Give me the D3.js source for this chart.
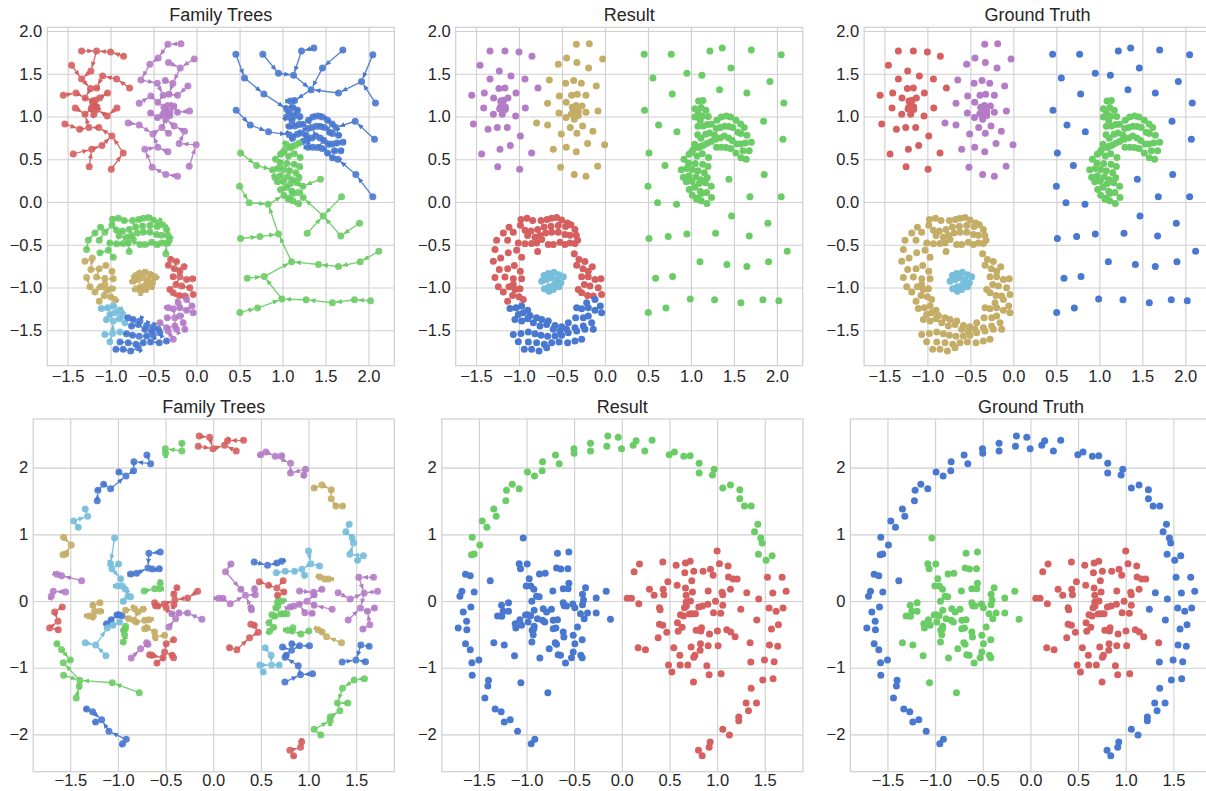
<!DOCTYPE html>
<html>
<head>
<meta charset="utf-8">
<script src="https://cdn.jsdelivr.net/npm/d3@7"></script>
<style>
  body { margin: 0; background: #ffffff; }
  svg { display: block; }
  text { font-family: "Liberation Sans", Arial, sans-serif; }
</style>
</head>
<body>
<svg id="fig" width="1206" height="791"></svg>
<script>
// Seaborn "muted" (6) palette: blue, green, red, purple, tan, light blue
const palette = ["#4878CF", "#6ACC65", "#D65F5F", "#B47CC7", "#C4AD66", "#77BEDB"];

const panelTitles = ["Family Trees", "Result", "Ground Truth"];
const topTicks = [-1.5, -1.0, -0.5, 0.0, 0.5, 1.0, 1.5, 2.0];
const bottomXTicks = [-1.5, -1.0, -0.5, 0.0, 0.5, 1.0, 1.5];
const bottomYTicks = [-2, -1, 0, 1, 2];

// ---------- upper dataset ----------
const topRedBlob = [[-1.337,1.766],[-1.163,1.766],[-1.000,1.755],[-0.849,1.704],[-1.453,1.599],[-1.229,1.533],[-1.093,1.474],[-1.337,1.439],[-0.930,1.439],[-0.779,1.334],[-1.403,1.275],[-1.233,1.326],[-1.163,1.334],[-1.035,1.275],[-1.550,1.248],[-1.295,1.217],[-1.128,1.217],[-1.213,1.182],[-1.178,1.190],[-1.194,1.155],[-1.217,1.108],[-1.159,1.112],[-1.411,1.100],[-0.926,1.100],[-1.225,1.088],[-1.159,1.081],[-1.298,1.026],[-1.194,1.026],[-1.039,1.007],[-1.531,0.913],[-1.360,0.851],[-1.252,0.870],[-1.136,0.870],[-0.984,0.773],[-1.434,0.562],[-1.221,0.617],[-1.101,0.660],[-0.853,0.574],[-1.248,0.411],[-0.992,0.383]];

const topPurpleBlob = [[-0.333,1.844],[-0.182,1.852],[-0.446,1.684],[-0.027,1.673],[-0.543,1.610],[-0.326,1.630],[-0.190,1.568],[-0.647,1.427],[-0.457,1.388],[-0.364,1.420],[-0.275,1.388],[-0.101,1.357],[-0.531,1.240],[-0.388,1.248],[-0.322,1.260],[-0.221,1.248],[-0.667,1.155],[-0.450,1.166],[-0.380,1.108],[-0.337,1.127],[-0.267,1.123],[-0.364,1.077],[-0.310,1.057],[-0.391,1.030],[-0.337,1.026],[-0.310,1.011],[-0.535,1.042],[-0.221,1.049],[-0.081,1.065],[-0.453,0.987],[-0.357,0.968],[-0.795,0.925],[-0.667,0.901],[-0.403,0.870],[-0.260,0.890],[-0.140,0.827],[-0.326,0.804],[-0.508,0.796],[-0.601,0.617],[-0.450,0.640],[-0.333,0.586],[-0.202,0.683],[-0.004,0.668],[-0.516,0.407],[-0.357,0.321],[-0.221,0.302],[-0.085,0.418]];

const sparseUpper = [[0.457,1.727],[0.771,1.727],[1.221,1.766],[1.364,1.801],[1.702,1.778],[2.050,1.723],[0.558,1.451],[0.953,1.505],[1.128,1.482],[1.465,1.568],[1.919,1.408],[0.783,1.264],[1.333,1.314],[1.651,1.275],[2.081,1.159],[0.461,1.073],[0.624,0.901],[0.837,0.820],[1.845,0.944],[2.070,0.734],[1.853,0.321],[2.050,0.060]];

const sparseLower = [[0.512,0.574],[0.698,0.426],[1.442,0.266],[0.500,0.185],[1.686,0.060],[0.612,-0.008],[0.833,-0.027],[1.473,-0.163],[1.895,-0.249],[0.512,-0.428],[0.736,-0.405],[0.953,-0.374],[1.287,-0.366],[1.678,-0.397],[2.120,-0.576],[1.105,-0.700],[1.419,-0.732],[1.651,-0.755],[1.903,-0.700],[0.589,-0.891],[0.787,-0.872],[0.992,-1.136],[1.275,-1.144],[1.581,-1.179],[1.837,-1.144],[2.023,-1.156],[0.709,-1.241],[0.504,-1.292]];

const moonUpper = [[1.089,1.182],[1.140,1.186],[1.047,1.089],[1.120,1.104],[1.174,1.073],[1.085,1.038],[1.047,0.995],[1.132,1.003],[1.202,0.999],[1.109,0.956],[1.143,0.890],[1.081,0.886],[1.190,0.905],[1.236,0.909],[1.302,0.956],[1.353,0.995],[1.411,1.007],[1.461,0.995],[1.523,0.956],[1.578,0.913],[1.620,0.870],[1.295,0.858],[1.341,0.870],[1.391,0.886],[1.442,0.882],[1.488,0.870],[1.547,0.816],[1.581,0.800],[1.651,0.781],[1.078,0.785],[1.116,0.746],[1.171,0.792],[1.217,0.808],[1.275,0.781],[1.236,0.707],[1.287,0.734],[1.341,0.749],[1.388,0.773],[1.438,0.749],[1.481,0.718],[1.531,0.679],[1.574,0.679],[1.632,0.691],[1.702,0.699],[1.298,0.640],[1.353,0.640],[1.407,0.637],[1.461,0.625],[1.523,0.574],[1.605,0.598],[1.678,0.598],[1.581,0.516],[1.643,0.500]];

const moonLower = [[1.043,0.675],[1.109,0.648],[1.190,0.687],[1.023,0.609],[1.089,0.637],[1.147,0.664],[1.004,0.578],[0.977,0.559],[1.070,0.539],[1.132,0.563],[1.205,0.520],[0.919,0.500],[0.973,0.453],[1.050,0.450],[1.136,0.442],[1.198,0.414],[0.888,0.376],[0.953,0.391],[1.016,0.380],[1.081,0.364],[1.155,0.341],[0.911,0.290],[0.977,0.306],[1.058,0.294],[1.116,0.259],[1.190,0.282],[0.946,0.236],[1.012,0.243],[1.093,0.216],[1.167,0.224],[1.236,0.185],[0.981,0.146],[1.043,0.173],[1.109,0.126],[1.182,0.111],[1.016,0.080],[1.081,0.045],[1.128,0.103],[1.240,0.052],[1.066,0.033],[1.120,0.013],[1.186,-0.018]];

const ringTop = [[-0.977,-0.206],[-0.907,-0.191],[-0.841,-0.218],[-0.744,-0.218],[-0.674,-0.206],[-0.620,-0.191],[-0.562,-0.183],[-0.504,-0.210],[-0.438,-0.245],[-1.116,-0.296],[-0.984,-0.272],[-0.930,-0.331],[-0.860,-0.339],[-0.783,-0.323],[-0.709,-0.292],[-0.628,-0.284],[-0.543,-0.276],[-0.457,-0.288],[-0.395,-0.265],[-0.349,-0.323],[-1.182,-0.362],[-1.066,-0.354],[-0.899,-0.393],[-0.814,-0.412],[-0.756,-0.393],[-0.690,-0.362],[-0.620,-0.354],[-0.543,-0.354],[-0.465,-0.381],[-0.407,-0.389],[-0.333,-0.389],[-0.318,-0.447],[-1.260,-0.447],[-1.132,-0.447],[-1.008,-0.479],[-0.930,-0.490],[-0.853,-0.486],[-0.795,-0.479],[-0.736,-0.440],[-0.659,-0.498],[-0.601,-0.498],[-0.523,-0.471],[-0.465,-0.498],[-0.407,-0.479],[-0.349,-0.486],[-1.279,-0.556],[-1.124,-0.595],[-1.027,-0.564],[-0.969,-0.646],[-0.783,-0.580],[-0.357,-0.607]];

const ringLeft = [[-1.213,-0.654],[-1.298,-0.693],[-1.229,-0.790],[-1.132,-0.782],[-1.054,-0.743],[-0.984,-0.809],[-1.279,-0.883],[-1.163,-0.879],[-1.066,-0.899],[-0.969,-0.899],[-1.240,-0.992],[-1.182,-1.054],[-1.116,-0.992],[-1.066,-0.965],[-1.047,-1.023],[-0.988,-1.016],[-1.132,-1.160],[-1.074,-1.093],[-1.000,-1.109],[-0.950,-1.140]];

const ringRight = [[-0.302,-0.673],[-0.233,-0.696],[-0.329,-0.739],[-0.256,-0.782],[-0.194,-0.809],[-0.147,-0.759],[-0.271,-0.875],[-0.194,-0.875],[-0.116,-0.907],[-0.047,-0.899],[-0.240,-0.965],[-0.174,-0.984],[-0.078,-1.004],[-0.310,-1.023],[-0.271,-1.062],[-0.202,-1.093],[-0.136,-1.101],[-0.039,-1.082]];

const ringLowerRight = [[-0.116,-1.140],[-0.213,-1.179],[-0.054,-1.218],[-0.329,-1.237],[-0.271,-1.249],[-0.194,-1.237],[-0.116,-1.265],[-0.039,-1.296],[-0.426,-1.412],[-0.341,-1.354],[-0.252,-1.354],[-0.194,-1.335],[-0.349,-1.471],[-0.252,-1.451],[-0.155,-1.412],[-0.329,-1.510],[-0.233,-1.490],[-0.136,-1.490],[-0.271,-1.607]];

const ringLowerLeft = [[-1.105,-1.245],[-1.035,-1.237],[-0.969,-1.218],[-0.899,-1.265],[-1.008,-1.315],[-0.950,-1.296],[-0.872,-1.327],[-1.047,-1.374],[-0.969,-1.393],[-0.899,-1.366],[-0.833,-1.412],[-1.066,-1.549],[-0.977,-1.537],[-0.891,-1.521],[-1.008,-1.634]];

const ringBottom = [[-0.795,-1.354],[-0.736,-1.374],[-0.659,-1.393],[-0.581,-1.444],[-0.504,-1.459],[-0.756,-1.451],[-0.678,-1.432],[-0.601,-1.490],[-0.523,-1.510],[-0.446,-1.490],[-0.814,-1.541],[-0.744,-1.560],[-0.667,-1.572],[-0.581,-1.568],[-0.504,-1.560],[-0.426,-1.529],[-0.891,-1.638],[-0.795,-1.646],[-0.705,-1.665],[-0.620,-1.646],[-0.535,-1.638],[-0.434,-1.646],[-0.349,-1.626],[-0.938,-1.724],[-0.853,-1.724],[-0.767,-1.743],[-0.678,-1.704]];

const ringCore = [[-0.709,-0.860],[-0.659,-0.837],[-0.593,-0.821],[-0.535,-0.852],[-0.484,-0.875],[-0.736,-0.926],[-0.678,-0.907],[-0.620,-0.887],[-0.562,-0.914],[-0.512,-0.946],[-0.705,-1.016],[-0.651,-0.992],[-0.589,-0.965],[-0.535,-0.992],[-0.651,-1.043],[-0.601,-1.023]];

// ---------- lower dataset: [x, y, family] ----------
const outerArcTop = [[-1.570,0.955,4],[-1.490,0.840,4],[-1.577,0.695,4],[-1.549,0.705,4],[-1.465,1.200,3],[-1.416,1.105,3],[-1.343,1.380,3],[-1.318,1.270,3],[-1.210,1.660,2],[-1.217,1.505,2],[-1.150,1.750,2],[-1.077,1.685,2],[-0.990,1.935,2],[-0.916,1.875,2],[-0.832,2.090,2],[-0.836,1.955,2],[-0.696,2.190,2],[-0.657,2.060,2],[-0.503,2.285,1],[-0.500,2.215,1],[-0.329,2.365,1],[-0.329,2.250,1],[-0.147,2.475,0],[-0.157,2.320,0],[-0.038,2.455,0],[-0.003,2.285,0],[0.150,2.405,0],[0.119,2.335,0],[0.318,2.410,0],[0.241,2.250,0],[0.497,2.195,15],[0.552,2.235,15],[0.650,2.170,15],[0.717,2.180,15],[0.811,2.065,15],[0.811,1.920,15],[0.969,1.975,15],[0.951,1.890,15],[1.059,1.695,16],[1.140,1.740,16],[1.238,1.670,16],[1.238,1.535,16],[1.287,1.425,16],[1.357,1.425,16],[1.427,1.150,17],[1.392,1.040,17],[1.458,0.945,17],[1.472,0.870,17],[1.434,0.700,17],[1.514,0.610,17],[1.577,0.680,17]];

const outerArcLeft = [[-1.640,0.400,5],[-1.591,0.380,5],[-1.381,0.305,5],[-1.678,0.145,6],[-1.699,0.070,6],[-1.549,0.135,6],[-1.584,-0.090,7],[-1.664,-0.165,7],[-1.629,-0.305,7],[-1.717,-0.405,7],[-1.626,-0.430,7],[-1.640,-0.640,8],[-1.591,-0.730,8],[-1.573,-0.925,8],[-1.500,-0.885,8],[-1.570,-1.115,8],[-1.399,-1.190,8],[-1.406,-1.275,8],[-1.437,-1.455,8],[-1.329,-1.620,9],[-1.266,-1.660,9],[-1.234,-1.815,9],[-1.171,-1.780,9],[-1.094,-1.955,9],[-0.913,-2.075,9],[-0.951,-2.140,9]];

const outerArcRight = [[1.528,0.355,18],[1.682,0.355,18],[1.311,0.125,18],[1.584,0.120,18],[1.724,0.145,18],[1.437,0.030,18],[1.545,-0.105,18],[1.619,-0.155,18],[1.692,-0.105,18],[1.416,-0.285,18],[1.570,-0.420,18],[1.643,-0.355,18],[1.248,-0.125,22],[1.549,-0.660,19],[1.636,-0.680,19],[1.353,-0.915,19],[1.497,-0.885,19],[1.598,-0.910,19],[1.479,-1.185,20],[1.587,-1.165,20],[1.357,-1.310,20],[1.304,-1.530,20],[1.413,-1.530,20],[1.329,-1.645,20],[1.227,-1.740,20],[1.227,-1.795,20],[1.059,-1.925,20],[1.129,-2.010,20],[0.927,-2.115,21],[0.916,-2.195,21],[0.804,-2.240,21],[0.843,-2.320,21]];

const leftBlob = [[-1.035,0.945,10],[-1.077,0.560,10],[-0.993,0.555,10],[-1.063,0.485,10],[-0.972,0.335,10],[-1.003,0.225,10],[-0.955,0.225,10],[-0.923,0.175,10],[-0.895,0.070,10],[-0.867,0.065,10],[-0.944,-0.005,10],[-0.675,0.715,11],[-0.556,0.735,11],[-0.685,0.495,11],[-0.640,0.480,11],[-0.566,0.485,11],[-0.804,0.415,11],[-0.864,0.405,11],[-0.724,0.150,12],[-0.615,0.185,12],[-0.556,0.265,12],[-0.563,0.185,12],[-1.189,-0.025,13],[-1.262,-0.065,13],[-1.245,-0.155,13],[-1.189,-0.155,13],[-1.304,-0.225,13],[-1.259,-0.230,13],[-1.119,-0.340,14],[-1.070,-0.280,14],[-1.010,-0.210,14],[-0.990,-0.205,14],[-0.958,-0.220,14],[-1.112,-0.405,37],[-1.052,-0.365,37],[-0.983,-0.315,37],[-1.343,-0.625,37],[-1.234,-0.660,37],[-1.126,-0.820,37],[-0.920,-0.380,38],[-0.923,-0.415,38],[-0.941,-0.440,38],[-0.930,-0.505,38],[-0.944,-0.615,38],[-0.920,-0.140,39],[-0.825,-0.115,39],[-0.790,-0.165,39],[-0.738,-0.125,39],[-0.885,-0.265,39],[-0.832,-0.290,39],[-0.808,-0.315,39],[-0.720,-0.290,39],[-0.675,-0.280,39],[-0.692,-0.405,39],[-0.720,-0.415,39],[-0.615,-0.465,39],[-0.608,-0.540,39],[-0.510,-0.515,39],[-0.699,-0.625,40],[-0.685,-0.650,40],[-0.762,-0.715,40],[-0.860,-0.855,40],[-0.416,-0.580,41],[-0.493,-0.640,41],[-0.510,-0.765,41],[-0.528,-0.850,41],[-0.430,-0.815,41],[-0.416,-0.850,41],[-0.591,-0.930,41],[-0.643,-0.815,41],[-0.668,-0.805,41],[-0.615,-0.025,35],[-0.605,-0.070,35],[-0.580,-0.075,35],[-0.514,-0.045,35],[-0.493,-0.100,35],[-0.402,0.015,35],[-0.413,-0.055,35],[-0.381,0.200,35],[-0.413,0.100,35],[-0.269,0.045,35],[-0.164,0.145,35],[-0.434,-0.190,36],[-0.360,-0.180,36],[-0.269,-0.180,36],[-0.119,-0.275,36],[-0.465,-0.390,36],[-0.395,-0.265,36],[-1.059,-1.225,8],[-0.776,-1.375,8]];

const rightBlob = [[1.000,0.750,24],[0.185,0.555,26],[0.129,0.440,26],[0.430,0.585,23],[0.570,0.535,23],[0.668,0.570,23],[0.717,0.595,23],[0.661,0.425,24],[0.755,0.445,24],[0.853,0.445,24],[0.930,0.475,24],[0.958,0.385,24],[1.024,0.560,24],[1.115,0.525,24],[1.119,0.360,25],[1.168,0.330,25],[1.210,0.330,25],[0.483,0.290,27],[0.580,0.235,27],[0.734,0.305,27],[0.290,0.175,26],[0.434,0.175,26],[0.441,0.095,26],[0.668,0.195,27],[0.741,0.135,27],[0.675,0.085,27],[0.906,0.150,22],[1.052,0.130,22],[1.059,0.095,22],[1.140,0.175,22],[0.339,0.085,26],[0.056,0.040,26],[0.101,0.040,26],[0.178,-0.040,26],[0.395,-0.100,26],[0.402,-0.130,26],[0.675,-0.015,28],[0.678,-0.075,28],[0.720,0.000,28],[0.657,-0.100,28],[0.738,-0.190,28],[0.773,-0.190,28],[0.615,-0.205,28],[0.647,-0.225,28],[0.710,-0.195,28],[0.584,-0.325,28],[0.633,-0.395,28],[0.591,-0.455,28],[0.808,-0.090,22],[0.846,-0.075,22],[0.902,-0.050,22],[0.983,-0.005,22],[1.059,-0.065,22],[0.962,-0.175,22],[1.038,-0.185,22],[0.395,-0.350,31],[0.430,-0.365,31],[0.472,-0.470,31],[0.381,-0.550,31],[0.171,-0.700,31],[0.248,-0.730,31],[0.780,-0.440,29],[0.836,-0.400,29],[0.829,-0.450,29],[0.920,-0.495,29],[1.003,-0.450,29],[1.101,-0.430,30],[1.143,-0.465,30],[1.189,-0.535,30],[1.346,-0.625,30],[0.545,-0.700,32],[0.608,-0.815,32],[0.490,-0.960,32],[0.612,-0.960,32],[0.692,-0.960,32],[0.525,-1.065,32],[0.727,-0.690,33],[0.825,-0.640,33],[0.906,-0.670,33],[1.010,-0.670,33],[0.822,-0.740,33],[0.766,-0.815,33],[0.755,-0.845,33],[0.892,-0.970,33],[0.916,-1.105,33],[1.042,-1.090,33],[0.752,-1.215,33]];

// colour (palette index) of each family in the lower family-tree panel
const lowerFamilyColors = [2,1,0,5,4,3,3,2,1,0, 5,0,1,4,0,3,4,5,3,0, 1,2,3,0,5,4,3,2,1,1, 4,2,5,0,0,2,3,5,1,4, 3,2];

// ---------- groupings: ground-truth class, result cluster, family ----------
const upperGroups = [
  { pts: topRedBlob,     gt: 2, res: 3, fam: "a", famColor: 2 },
  { pts: topPurpleBlob,  gt: 3, res: 4, fam: "b", famColor: 3 },
  { pts: sparseUpper,    gt: 0, res: 1, fam: "c", famColor: 0 },
  { pts: moonUpper,      gt: 1, res: 1, fam: "c", famColor: 0 },
  { pts: sparseLower,    gt: 0, res: 1, fam: "d", famColor: 1 },
  { pts: moonLower,      gt: 1, res: 1, fam: "d", famColor: 1 },
  { pts: ringTop,        gt: 4, res: 2, fam: "e", famColor: 1 },
  { pts: ringLeft,       gt: 4, res: 2, fam: "f", famColor: 4 },
  { pts: ringRight,      gt: 4, res: 2, fam: "g", famColor: 2 },
  { pts: ringLowerRight, gt: 4, res: 0, fam: "h", famColor: 3 },
  { pts: ringLowerLeft,  gt: 4, res: 0, fam: "i", famColor: 5 },
  { pts: ringBottom,     gt: 4, res: 0, fam: "j", famColor: 0 },
  { pts: ringCore,       gt: 5, res: 5, fam: "k", famColor: 4 }
];
const lowerGroups = [
  { pts: outerArcTop,   gt: 0, res: 1 },
  { pts: outerArcLeft,  gt: 0, res: 0 },
  { pts: outerArcRight, gt: 0, res: 2 },
  { pts: leftBlob,      gt: 1, res: 0 },
  { pts: rightBlob,     gt: 2, res: 2 }
];

function flatten(groups, lower) {
  const out = [];
  groups.forEach(g => g.pts.forEach(p => {
    out.push({
      x: p[0], y: p[1], gt: g.gt, res: g.res,
      fam: lower ? "f" + p[2] : g.fam,
      famColor: lower ? lowerFamilyColors[p[2]] : g.famColor,
      idx: out.length
    });
  }));
  return out;
}
const upperPoints = flatten(upperGroups, false);
const lowerPoints = flatten(lowerGroups, true);

// Family tree links: each point points to its nearest family member of higher density
function familyLinks(points, bw) {
  const links = [];
  for (const [, members] of d3.group(points, d => d.fam)) {
    members.forEach(p => {
      p.dens = d3.sum(members, q => Math.exp(-((p.x - q.x) ** 2 + (p.y - q.y) ** 2) / (2 * bw * bw)));
    });
    const higher = (q, p) => q.dens > p.dens || (q.dens === p.dens && q.idx < p.idx);
    members.forEach(p => {
      let best = null, bd = Infinity;
      members.forEach(q => {
        if (q === p || !higher(q, p)) return;
        const d = (p.x - q.x) ** 2 + (p.y - q.y) ** 2;
        if (d < bd) { bd = d; best = q; }
      });
      if (best) links.push({ s: p, t: best, c: p.famColor });
    });
  }
  return links;
}
const upperLinks = familyLinks(upperPoints, 0.3);
const lowerLinks = familyLinks(lowerPoints, 0.2);

// ---------- layout ----------
const rows = [
  { top: 27.3, h: 338.4, left0: 47.3, step: 408.4, w: 347,
    xd: [-1.736, 2.30], yd: [-1.915, 2.043],
    xt: topTicks, yt: topTicks, fx: d3.format(".1f"), fy: d3.format(".1f"), padX: 5,
    pts: upperPoints, links: upperLinks },
  { top: 419, h: 352.7, left0: 33.2, step: 408.6, w: 361.1,
    xd: [-1.889, 1.900], yd: [-2.56, 2.73],
    xt: bottomXTicks, yt: bottomYTicks, fx: d3.format(".1f"), fy: d3.format("d"), padX: 3,
    pts: lowerPoints, links: lowerLinks }
];

const svg = d3.select("#fig");
const defs = svg.append("defs");
palette.forEach((c, i) => {
  defs.append("marker")
    .attr("id", "head" + i)
    .attr("viewBox", "0 -3 7 6")
    .attr("refX", 7).attr("refY", 0)
    .attr("markerWidth", 6).attr("markerHeight", 5)
    .attr("markerUnits", "userSpaceOnUse")
    .attr("orient", "auto")
    .append("path").attr("d", "M0,-3L7,0L0,3Z").attr("fill", c);
});

const gridColor = "#cfcfcf";
const textColor = "#262626";
const R = 3.5;

rows.forEach(row => {
  panelTitles.forEach((title, k) => {
    const left = row.left0 + k * row.step;
    const g = svg.append("g").attr("transform", `translate(${left},${row.top})`);
    const x = d3.scaleLinear().domain(row.xd).range([0, row.w]);
    const y = d3.scaleLinear().domain(row.yd).range([row.h, 0]);

    const gx = g.append("g").attr("transform", `translate(0,${row.h})`)
      .call(d3.axisBottom(x).tickValues(row.xt).tickFormat(row.fx).tickSize(-row.h).tickPadding(row.padX));
    const gy = g.append("g")
      .call(d3.axisLeft(y).tickValues(row.yt).tickFormat(row.fy).tickSize(-row.w).tickPadding(5));
    [gx, gy].forEach(a => {
      a.select(".domain").remove();
      a.selectAll("line").attr("stroke", gridColor).attr("stroke-width", 1.1);
      a.selectAll("text").attr("fill", textColor).attr("font-size", 16.5)
        .attr("font-family", "'Liberation Sans', Arial, sans-serif");
    });

    g.append("rect").attr("width", row.w).attr("height", row.h)
      .attr("fill", "none").attr("stroke", gridColor).attr("stroke-width", 1.2);

    g.append("text").attr("x", row.w / 2).attr("y", -6)
      .attr("text-anchor", "middle").attr("font-size", 18).attr("fill", textColor)
      .text(title);

    if (k === 0) {
      g.append("g").selectAll("line").data(row.links).join("line")
        .each(function (d) {
          const x1 = x(d.s.x), y1 = y(d.s.y), x2 = x(d.t.x), y2 = y(d.t.y);
          const len = Math.hypot(x2 - x1, y2 - y1) || 1;
          const ex = x2 - (x2 - x1) / len * R, ey = y2 - (y2 - y1) / len * R;
          d3.select(this).attr("x1", x1).attr("y1", y1).attr("x2", ex).attr("y2", ey);
        })
        .attr("stroke", d => palette[d.c])
        .attr("stroke-width", 1.4)
        .attr("stroke-opacity", 0.9)
        .attr("marker-end", d => `url(#head${d.c})`);
    }

    const colourOf = k === 0 ? (d => d.famColor) : k === 1 ? (d => d.res) : (d => d.gt);
    g.append("g").selectAll("circle").data(row.pts).join("circle")
      .attr("cx", d => x(d.x)).attr("cy", d => y(d.y)).attr("r", R)
      .attr("fill", d => palette[colourOf(d)])
      .attr("fill-opacity", k === 0 ? 0.9 : 1);
  });
});
</script>
</body>
</html>
